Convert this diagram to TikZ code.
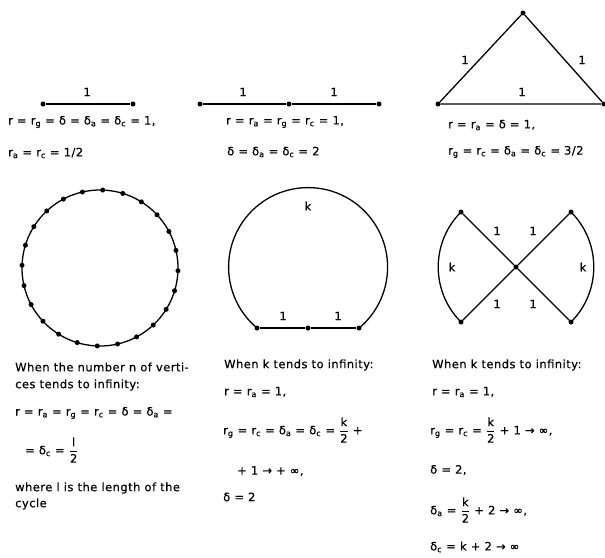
\documentclass[tikz,border=0pt]{standalone}
\usepackage{amsmath}
\usepackage{fontspec}
\setmainfont{DejaVu Sans}[LetterSpace=4, FakeBold=0.4]
\usetikzlibrary{calc}

\newcommand{\rsub}[1]{r\textsubscript{#1}}
\newcommand{\dsub}[1]{δ\textsubscript{#1}}
\newcommand{\halfof}[2]{$\genfrac{}{}{0.6pt}{0}{\text{#1}}{\text{#2}}$}

\begin{document}
\begin{tikzpicture}[x=1pt, y=-1pt,
  edge/.style={line width=1.3pt},
  dot/.style={circle, fill, inner sep=0pt, minimum size=5pt},
  lbl/.style={font=\fontsize{11.5}{13}\selectfont, inner sep=0pt},
  txt/.style={lbl, anchor=west}]
  \useasboundingbox (0,0) rectangle (605,557);

  % === Left column ===
  \begin{scope}[shift={(0,0)}]
    % one edge
    \node[dot] (p1) at (43,104) {};
    \node[dot] (p2) at (133,104) {};
    \draw[edge] (p1) -- (p2);
    \node[lbl] (p12) at (87,92) {1};
    \node[txt] (pa) at (8,122) {r = \rsub{g} = δ = \dsub{a} = \dsub{c} = 1,};
    \node[txt] (pb) at (8,153) {\rsub{a} = \rsub{c} = 1/2};

    % cycle with n vertices
    \coordinate (cc) at (100,268);
    \draw[edge] (cc) circle (78);
    \foreach \i in {0,...,23}
      \node[dot] (c\i) at ($(cc)+({15*\i+2}:78)$) {};

    \node[txt] (ca) at (15,367) {When the number n of verti-};
    \node[txt] (cb) at (15,385) {ces tends to infinity:};
    \node[txt] (cc1) at (15,413) {r = \rsub{a} = \rsub{g} = \rsub{c} = δ = \dsub{a} =};
    \node[txt] (cc2) at (25,450) {= \dsub{c} = \halfof{l}{2}};
    \node[txt] (cd) at (15,488) {where l is the length of the};
    \node[txt] (ce) at (15,504) {cycle};
  \end{scope}

  % === Middle column ===
  \begin{scope}[shift={(200,0)}]
    % path of two edges
    \node[dot] (q1) at (0,104) {};
    \node[dot] (q2) at (89,104) {};
    \node[dot] (q3) at (179,104) {};
    \draw[edge] (q1) -- (q2) -- (q3);
    \node[lbl] (q12) at (43,92) {1};
    \node[lbl] (q23) at (134,92) {1};
    \node[txt] (qa) at (26,122) {r = \rsub{a} = \rsub{g} = \rsub{c} = 1,};
    \node[txt] (qb) at (27,152) {δ = \dsub{a} = \dsub{c} = 2};

    % long arc of length k
    \node[dot] (k1) at (57,328) {};
    \node[dot] (k2) at (108,328) {};
    \node[dot] (k3) at (159,328) {};
    \draw[edge] (k1) -- (k2) -- (k3);
    \draw[edge] (k1.center) arc[start angle=130, end angle=410, radius=79.5];
    \node[lbl] (kk) at (108,206) {k};
    \node[lbl] (k12) at (83,316) {1};
    \node[lbl] (k23) at (138,316) {1};

    \node[txt] (ka) at (24,365) {When k tends to infinity:};
    \node[txt] (kb) at (24,392) {r = \rsub{a} = 1,};
    \node[txt] (kc) at (23,430) {\rsub{g} = \rsub{c} = \dsub{a} = \dsub{c} = \halfof{k}{2} +};
    \node[txt] (kd) at (37,471) {+ 1 → + ∞,};
    \node[txt] (ke) at (23,497) {δ = 2};
  \end{scope}

  % === Right column ===
  \begin{scope}[shift={(420,0)}]
    % triangle
    \node[dot] (t1) at (18,104) {};
    \node[dot] (t2) at (103,13) {};
    \node[dot] (t3) at (184,104) {};
    \draw[edge] (t1) -- (t2) -- (t3) -- (t1);
    \node[lbl] (t12) at (45,60) {1};
    \node[lbl] (t23) at (162,60) {1};
    \node[lbl] (t13) at (102,92) {1};
    \node[txt] (ta) at (28,125) {r = \rsub{a} = δ = 1,};
    \node[txt] (tb) at (28,152) {\rsub{g} = \rsub{c} = \dsub{a} = \dsub{c} = 3/2};

    % two loops through one vertex
    \node[dot] (w0) at (96,267) {};
    \node[dot] (w1) at (41,212) {};
    \node[dot] (w2) at (151,212) {};
    \node[dot] (w3) at (41,322) {};
    \node[dot] (w4) at (151,322) {};
    \draw[edge] (w1) -- (w0) -- (w4);
    \draw[edge] (w2) -- (w0) -- (w3);
    \draw[edge] (w1.center) arc[start angle=225, end angle=135, radius=77.8];
    \draw[edge] (w2.center) arc[start angle=-45, end angle=45, radius=77.8];
    \node[lbl] (w01) at (77,231) {1};
    \node[lbl] (w02) at (113,231) {1};
    \node[lbl] (w03) at (77,304) {1};
    \node[lbl] (w04) at (113,304) {1};
    \node[lbl] (wk1) at (32,267) {k};
    \node[lbl] (wk2) at (163,267) {k};

    \node[txt] (wa) at (12,365) {When k tends to infinity:};
    \node[txt] (wb) at (12,392) {r = \rsub{a} = 1,};
    \node[txt] (wc) at (10,430) {\rsub{g} = \rsub{c} = \halfof{k}{2} + 1 → ∞,};
    \node[txt] (wd) at (10,470) {δ = 2,};
    \node[txt] (we) at (10,510) {\dsub{a} = \halfof{k}{2} + 2 → ∞,};
    \node[txt] (wf) at (10,547) {\dsub{c} = k + 2 → ∞};
  \end{scope}
\end{tikzpicture}
\end{document}
